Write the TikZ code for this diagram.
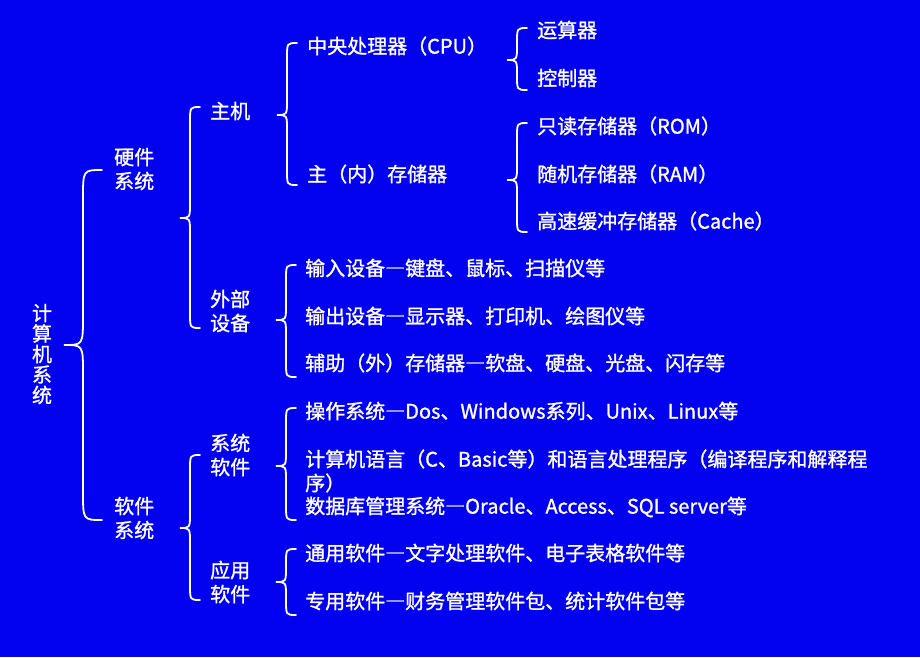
\documentclass[tikz,border=0pt]{standalone}
\usepackage{fontspec}
\newfontfamily\cjk{Noto Sans CJK SC}[FakeBold=1.2]
\definecolor{bg}{RGB}{2,2,240}
\newcommand\cbr[5]{% #1 xline, #2 ytop, #3 ytip, #4 ybot, #5 half width
  \draw[brc] ({#1+#5},{#2}) .. controls ({#1},{#2}) .. ({#1},{#2+1.5*#5})
    -- ({#1},{#3-1.5*#5}) .. controls ({#1},{#3}) .. ({#1-#5},{#3})
    .. controls ({#1},{#3}) .. ({#1},{#3+1.5*#5})
    -- ({#1},{#4-1.5*#5}) .. controls ({#1},{#4}) .. ({#1+#5},{#4});}
\begin{document}
\begin{tikzpicture}[x=1pt,y=-1pt,
  lbl/.style={anchor=west,inner sep=0pt,text=white,font=\cjk\fontsize{20}{24}\selectfont,align=left},
  brc/.style={draw=white,line width=1.8pt,line cap=round}]
\fill[bg] (0,0) rectangle (920,657);
\useasboundingbox (0,0) rectangle (920,657);
% level 0
\node[lbl,anchor=center,align=center,font=\cjk\fontsize{20}{20.5}\selectfont] (root) at (42,354) {计\\算\\机\\系\\统};
% level 1
\node[lbl] (hw) at (114,169) {硬件\\系统};
\node[lbl] (sw) at (114,518) {软件\\系统};
% level 2
\node[lbl] (zj) at (210,111) {主机};
\node[lbl] (wb) at (210,311) {外部\\设备};
\node[lbl] (xt) at (210,455) {系统\\软件};
\node[lbl] (yy) at (210,582) {应用\\软件};
% level 3
\node[lbl] (cpu) at (307,46) {中央处理器（CPU）};
\node[lbl] (mem) at (307,174) {主（内）存储器};
\node[lbl] (in) at (305,268) {输入设备―键盘、鼠标、扫描仪等};
\node[lbl] (out) at (305,316) {输出设备―显示器、打印机、绘图仪等};
\node[lbl] (aux) at (305,363) {辅助（外）存储器―软盘、硬盘、光盘、闪存等};
\node[lbl] (os) at (305,411) {操作系统―Dos、Windows系列、Unix、Linux等};
\node[lbl] (lang) at (305,471) {计算机语言（C、Basic等）和语言处理程序（编译程序和解释程\\序）};
\node[lbl] (db) at (305,507) {数据库管理系统―Oracle、Access、SQL server等};
\node[lbl] (gen) at (305,553) {通用软件―文字处理软件、电子表格软件等};
\node[lbl] (spec) at (305,601) {专用软件―财务管理软件包、统计软件包等};
% level 4
\node[lbl] (ys) at (537,30) {运算器};
\node[lbl] (kz) at (537,78) {控制器};
\node[lbl] (rom) at (537,126) {只读存储器（ROM）};
\node[lbl] (ram) at (537,174) {随机存储器（RAM）};
\node[lbl] (cache) at (537,221) {高速缓冲存储器（Cache）};
% braces
\cbr{83}{170}{345}{520}{19}
\cbr{190}{107}{218}{328}{10}
\cbr{190}{455}{528}{600}{10}
\cbr{287}{43}{115}{185}{10}
\cbr{286}{265}{320}{377}{10}
\cbr{286}{408}{466}{520}{10}
\cbr{286}{549}{582}{615}{10}
\cbr{517}{28}{60}{90}{10}
\cbr{517}{123}{180}{232}{10}
\end{tikzpicture}
\end{document}
